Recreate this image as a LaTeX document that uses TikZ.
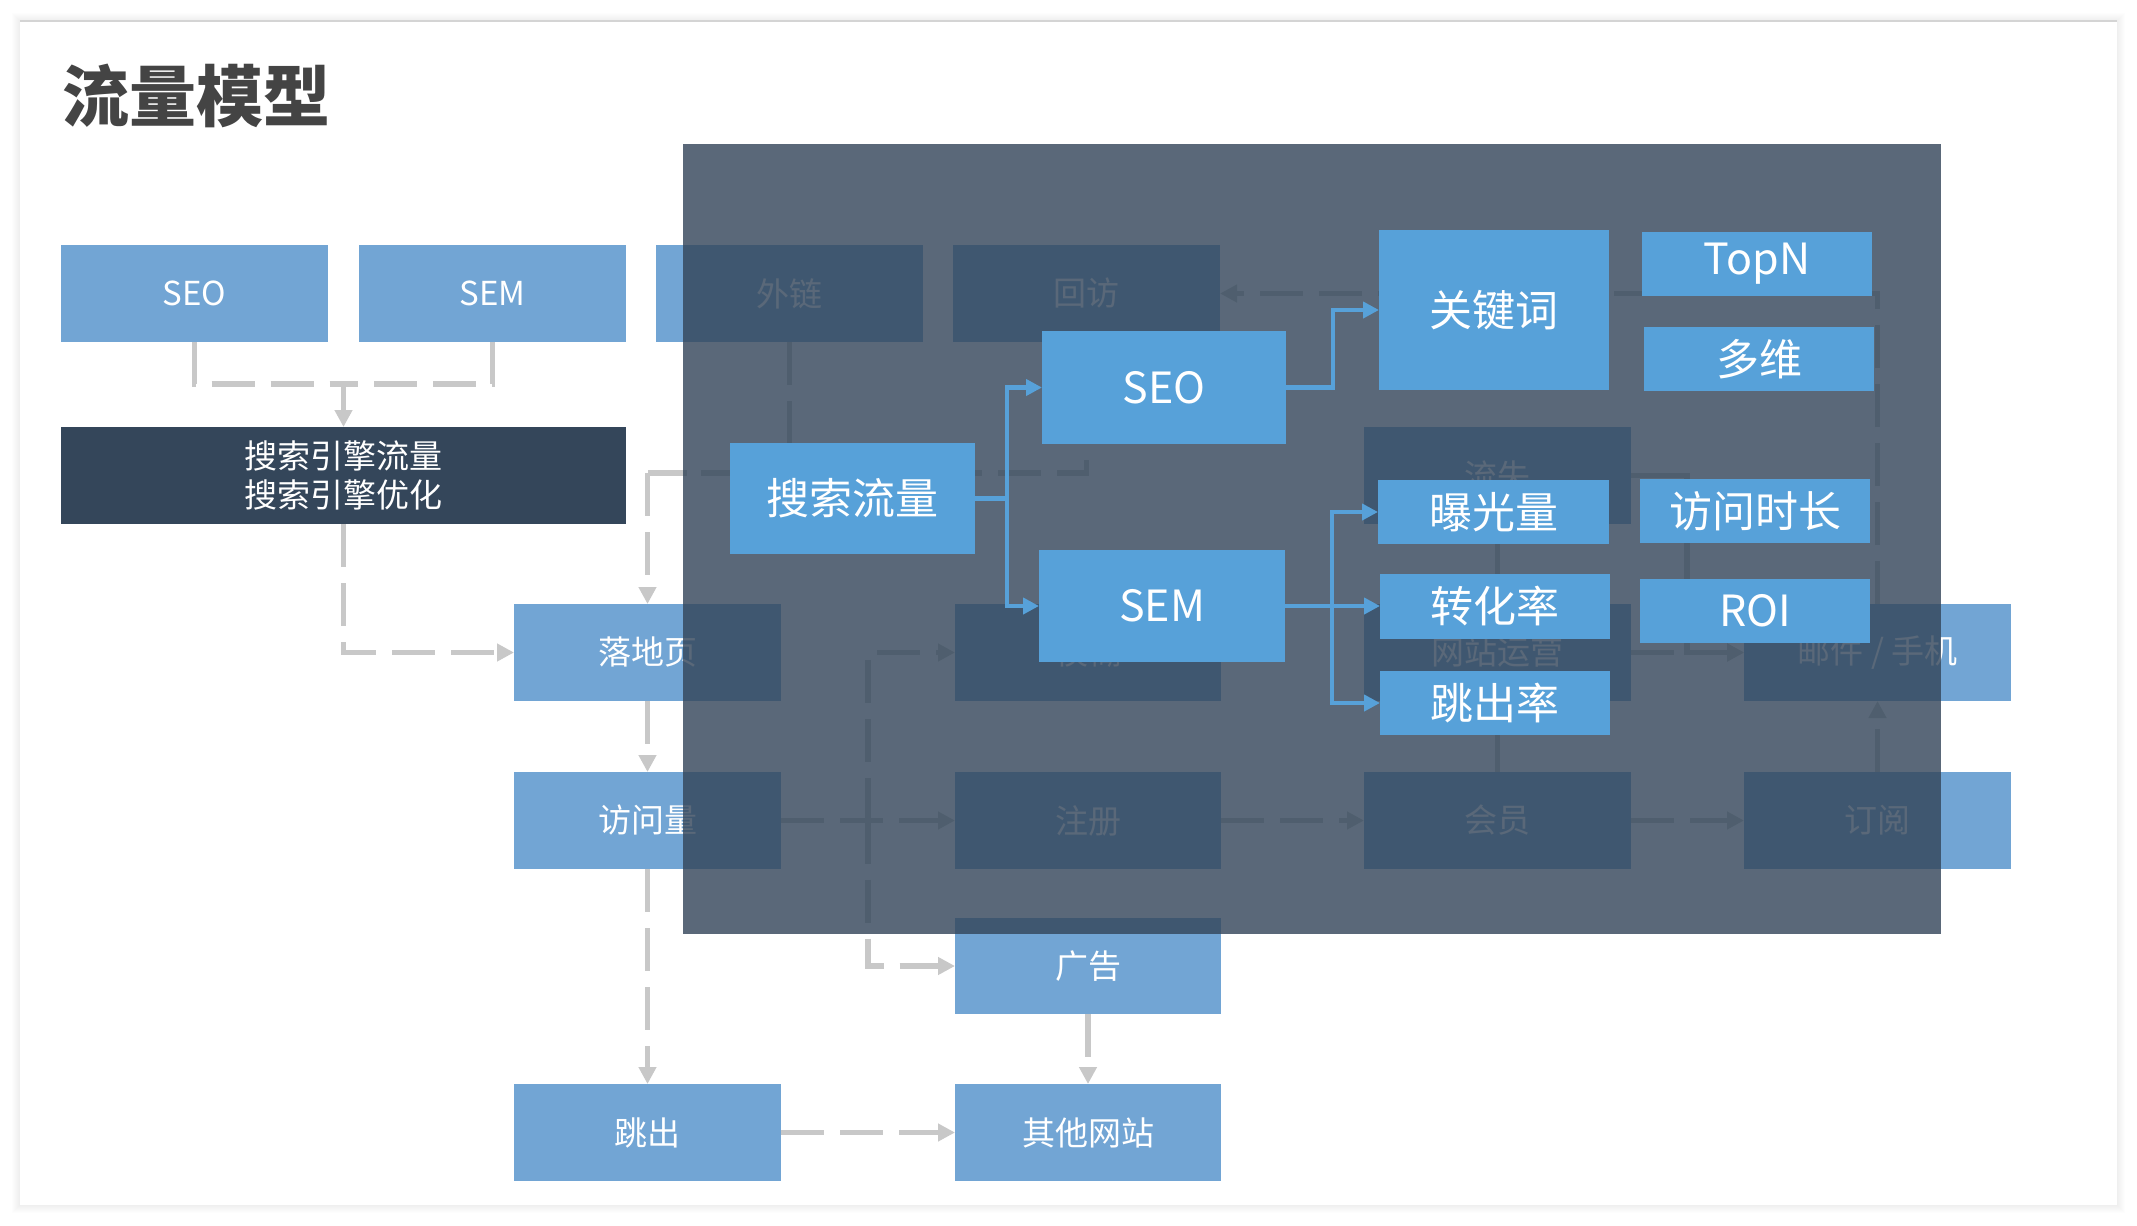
\documentclass[tikz,border=0pt]{standalone}
\usepackage{fontspec}
\setmainfont{Noto Sans CJK SC}
\usetikzlibrary{arrows.meta}
\definecolor{lb}{HTML}{72A5D4}
\definecolor{bb}{HTML}{57A1D9}
\definecolor{dk}{HTML}{34465A}
\definecolor{gl}{HTML}{C8C8C8}
\definecolor{tt}{HTML}{444444}
\newcommand\bx[7]{\node[#1, minimum width={(#5-#3)*0.5pt}, minimum height={(#6-#4)*0.5pt}] (#2) at ({(#3+#5)/2},{(#4+#6)/2}) {#7};}
\tikzset{
  basebox/.style={fill=lb, text=white, inner sep=0pt, outer sep=0pt, font=\fontsize{16.5pt}{20pt}\selectfont},
  darkbox/.style={basebox, fill=dk, align=center, font=\fontsize{16.5pt}{19.5pt}\selectfont},
  topbox/.style={fill=bb, text=white, inner sep=0pt, outer sep=0pt, font=\fontsize{21.5pt}{26pt}\selectfont},
  gd/.style={draw=gl, line width=2.75pt, dash pattern=on 21.5pt off 8pt},
  garr/.style={gd, -{Triangle[length=8.5pt,width=8.5pt]}},
  gsolid/.style={draw=gl, line width=2.75pt, -{Triangle[length=8.5pt,width=8.5pt]}},
  bl/.style={draw=bb, line width=2.25pt, -{Triangle[length=8pt,width=8pt]}}
}
\begin{document}
\begin{tikzpicture}[x=0.5pt,y=-0.5pt]
\useasboundingbox (0,0) rectangle (2137,1226);
\fill[white] (0,0) rectangle (2137,1226);
% page shadow
\foreach \i in {1,...,8}{
  \fill[black, opacity=0.008] (20-\i,21-\i) rectangle (2117+\i,1205+\i);
}
\fill[white] (20,21) rectangle (2117,1205);
\draw[line width=1.2pt, color=black!17] (20,21) -- (2117,21);
% title
\node[anchor=west, text=tt, inner sep=0pt, font=\fontsize{33.5pt}{40pt}\selectfont\bfseries] (title) at (62,96) {流量模型};
% base layer boxes
\bx{basebox}{seo}{61}{245}{328}{342}{SEO}
\bx{basebox}{sem}{359}{245}{626}{342}{SEM}
\bx{basebox}{wl}{656}{245}{923}{342}{外链}
\bx{basebox}{hf}{953}{245}{1220}{342}{回访}
\bx{darkbox}{dark}{61}{427}{626}{524}{搜索引擎流量\\搜索引擎优化}
\bx{basebox}{ls}{1364}{427}{1631}{524}{流失}
\bx{basebox}{ldy}{514}{604}{781}{701}{落地页}
\bx{basebox}{mh}{955}{604}{1221}{701}{模糊}
\bx{basebox}{wzyy}{1364}{604}{1631}{701}{网站运营}
\bx{basebox}{yj}{1744}{604}{2011}{701}{邮件 / 手机}
\bx{basebox}{fwl}{514}{772}{781}{869}{访问量}
\bx{basebox}{zc}{955}{772}{1221}{869}{注册}
\bx{basebox}{hy}{1364}{772}{1631}{869}{会员}
\bx{basebox}{dy}{1744}{772}{2011}{869}{订阅}
\bx{basebox}{gg}{955}{918}{1221}{1014}{广告}
\bx{basebox}{tc}{514}{1084}{781}{1181}{跳出}
\bx{basebox}{qt}{955}{1084}{1221}{1181}{其他网站}
% base layer connectors
\coordinate (j1) at (343.5,384);
\draw[gd] (seo.south) |- (j1);
\draw[gd] (sem.south) |- (j1);
\draw[garr] (j1) -- (dark.north);
\draw[garr] (dark.south) |- (ldy.west);
\coordinate (j2) at (647.5,473);
\draw[gd] (wl.south) |- (j2);
\draw[gd] (hf.south) |- (j2);
\draw[garr] (j2) -- (ldy.north);
\draw[garr] (ldy.south) -- (fwl.north);
\draw[garr] (fwl.south) -- (tc.north);
\draw[garr] (tc.east) -- (qt.west);
\draw[garr] (gg.south) -- (qt.north);
\draw[garr] (fwl.east) -- (zc.west);
\coordinate (j3) at (868,820.5);
\draw[garr] (j3) |- (mh.west);
\draw[garr] (j3) |- (gg.west);
\draw[garr] (zc.east) -- (hy.west);
\draw[garr] (hy.east) -- (dy.west);
\draw[garr] (dy.north) -- (yj.south);
\draw[garr] (yj.north) |- (hf.east);
\draw[gsolid] (hy.north) -- (wzyy.south);
\draw[gsolid] (wzyy.north) -- (ls.south);
\coordinate (j4) at (1687,475.5);
\draw[gsolid] (ls.east) -- (j4) |- (yj.west);
\draw[garr] (wzyy.east) -- (yj.west);
% overlay
\fill[dk, opacity=0.81] (683,144) rectangle (1941,934);
% top layer boxes
\bx{topbox}{ssl}{730}{443}{975}{554}{搜索流量}
\bx{topbox}{seo2}{1042}{331}{1286}{444}{SEO}
\bx{topbox}{sem2}{1039}{550}{1285}{662}{SEM}
\bx{topbox}{gjc}{1379}{230}{1609}{390}{关键词}
\bx{topbox}{topn}{1642}{232}{1872}{296}{TopN}
\bx{topbox}{dw}{1644}{327}{1874}{391}{多维}
\bx{topbox}{bgl}{1378}{480}{1609}{544}{曝光量}
\bx{topbox}{fwsc}{1640}{479}{1870}{543}{访问时长}
\bx{topbox}{zhl}{1380}{574}{1610}{639}{转化率}
\bx{topbox}{roi}{1640}{579}{1870}{643}{ROI}
\bx{topbox}{tcl}{1380}{671}{1610}{735}{跳出率}
% top layer connectors
\draw[bl] (ssl.east) -- ++(32,0) |- (seo2.west);
\draw[bl] (ssl.east) -- ++(32,0) |- (sem2.west);
\draw[bl] (seo2.east) -- ++(47,0) |- (gjc.west);
\draw[bl] (sem2.east) -- ++(47,0) |- (bgl.west);
\draw[bl] (sem2.east) -- (zhl.west |- sem2.east);
\draw[bl] (sem2.east) -- ++(47,0) |- (tcl.west);
\end{tikzpicture}
\end{document}
